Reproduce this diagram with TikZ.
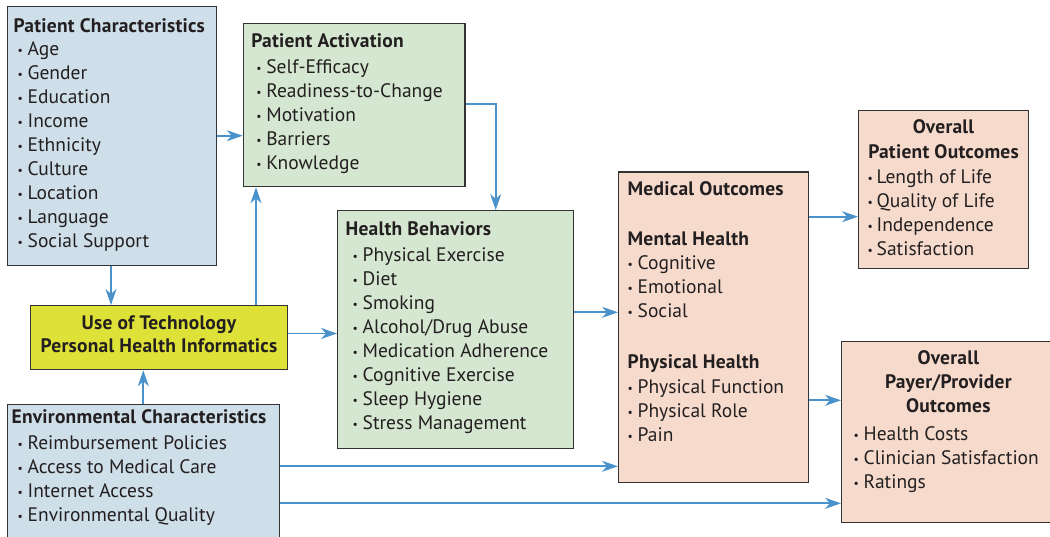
\documentclass[tikz,border=0pt]{standalone}
\usepackage{fontspec}
\setmainfont{PT Sans}[BoldFeatures={LetterSpace=1.2}]
\usetikzlibrary{arrows.meta}
\definecolor{pcblue}{RGB}{207,223,233}
\definecolor{bxgreen}{RGB}{213,230,209}
\definecolor{techyel}{RGB}{222,225,56}
\definecolor{peach}{RGB}{246,219,205}
\definecolor{arrc}{RGB}{74,146,204}
\definecolor{bordc}{RGB}{51,51,51}
\definecolor{txtc}{RGB}{35,31,32}
\newlength\bind
\newlength\bgap
\newcommand\bul{\makebox[\bgap][l]{\raisebox{1.2pt}{\scalebox{0.6}{•}}}}
\newcommand\bit[1]{\par\strut\hspace*{\bind}\bul #1}
\newcommand\hd[2]{\par\strut\hspace*{#1}\textbf{#2}}
\newcommand\hc[1]{\par\makebox[\linewidth]{\strut\textbf{#1}}}
\newcommand\bxt[4]{\parbox[t][#2][t]{#1}{\fontsize{19.5}{24}\selectfont\vspace*{\dimexpr#3pt-16.8pt\relax}#4\par}}
\tikzset{
  box/.style={draw=bordc, line width=1.3pt, anchor=north west, inner sep=0pt, text=txtc},
  arr/.style={draw=arrc, line width=1.9pt, -{Stealth[length=16pt,width=11pt,inset=5pt]}}
}
\begin{document}
\begin{tikzpicture}[x=1pt,y=-1pt]
\useasboundingbox (0,0) rectangle (1050,537);

\node[box,fill=pcblue] (pc) at (7,6) {\bxt{209pt}{259pt}{25.7}{\setlength\bind{10pt}\setlength\bgap{10pt}%
\hd{6pt}{Patient Characteristics}\vspace{-1pt}\bit{Age}\bit{Gender}\bit{Education}\bit{Income}\bit{Ethnicity}\bit{Culture}\bit{Location}\bit{Language}\bit{Social Support}}};

\node[box,fill=bxgreen] (pa) at (242.7,23) {\bxt{221.5pt}{163pt}{23.7}{\setlength\bind{13pt}\setlength\bgap{10pt}%
\hd{8pt}{Patient Activation}\vspace{2.6pt}\bit{Self-Efficacy}\bit{Readiness-to-Change}\bit{Motivation}\bit{Barriers}\bit{Knowledge}}};

\node[box,fill=bxgreen] (hb) at (337,210) {\bxt{236pt}{237.5pt}{25}{\setlength\bind{15pt}\setlength\bgap{10pt}%
\hd{8pt}{Health Behaviors}\vspace{2pt}\bit{Physical Exercise}\bit{Diet}\bit{Smoking}\bit{Alcohol/Drug Abuse}\bit{Medication Adherence}\bit{Cognitive Exercise}\bit{Sleep Hygiene}\bit{Stress Management}}};

\node[box,fill=techyel] (tech) at (30,305) {\bxt{257pt}{64pt}{24}{%
\hc{Use of Technology}\vspace{-0.7pt}\hc{Personal Health Informatics}}};

\node[box,fill=pcblue] (env) at (7,404) {\bxt{272pt}{145pt}{19.3}{\setlength\bind{10pt}\setlength\bgap{10pt}%
\hd{4pt}{Environmental Characteristics}\vspace{2pt}\bit{Reimbursement Policies}\bit{Access to Medical Care}\bit{Internet Access}\bit{Environmental Quality}}};

\node[box,fill=peach] (mo) at (618,171.3) {\bxt{189.7pt}{310.4pt}{23.7}{\setlength\bind{9pt}\setlength\bgap{10pt}%
\hd{9pt}{Medical Outcomes}\vspace{26pt}\hd{9pt}{Mental Health}\bit{Cognitive}\bit{Emotional}\bit{Social}\vspace{27.3pt}\hd{9pt}{Physical Health}\vspace{0.4pt}\bit{Physical Function}\bit{Physical Role}\bit{Pain}}};

\node[box,fill=peach] (opo) at (858,110) {\bxt{170pt}{158pt}{23.3}{\setlength\bind{9pt}\setlength\bgap{9pt}%
\hc{Overall}\vspace{0.4pt}\hc{Patient Outcomes}\vspace{1.6pt}\bit{Length of Life}\bit{Quality of Life}\bit{Independence}\bit{Satisfaction}}};

\node[box,fill=peach] (opp) at (841,341) {\bxt{213.6pt}{181pt}{23.3}{\setlength\bind{12pt}\setlength\bgap{10pt}%
\hc{Overall}\hc{Payer/Provider}\vspace{-0.6pt}\hc{Outcomes}\vspace{4.3pt}\bit{Health Costs}\bit{Clinician Satisfaction}\bit{Ratings}}};

\draw[arr] (pc.east |- 0,135.7) -- (pa.west |- 0,135.7);
\draw[arr] (pc.south -| 111,0) -- (tech.north -| 111,0);
\draw[arr] (tech.north -| 256,0) -- (pa.south -| 256,0);
\draw[arr] (tech.east |- 0,333.5) -- (hb.west |- 0,333.5);
\draw[arr] (env.north -| 143.3,0) -- (tech.south -| 143.3,0);
\draw[arr] (pa.east |- 0,104.3) -| (hb.north -| 495.7,0);
\draw[arr] (hb.east |- 0,312.3) -- (mo.west |- 0,312.3);
\draw[arr] (mo.east |- 0,216.7) -- (opo.west |- 0,216.7);
\draw[arr] (mo.east |- 0,400.3) -- (opp.west |- 0,400.3);
\draw[arr] (env.east |- 0,466.3) -- (mo.west |- 0,466.3);
\draw[arr] (env.east |- 0,503.3) -- (opp.west |- 0,503.3);
\end{tikzpicture}
\end{document}
